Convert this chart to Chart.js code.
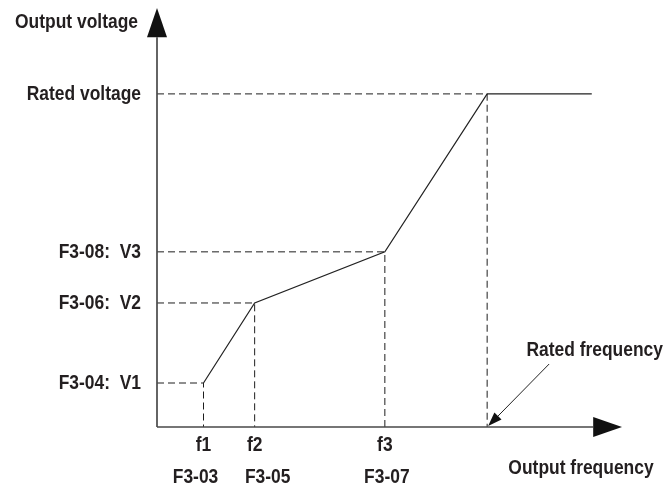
<!DOCTYPE html>
<html>
<head>
<meta charset="utf-8">
<script src="https://cdn.jsdelivr.net/npm/chart.js@4/dist/chart.umd.min.js"></script>
<style>
  html, body { margin: 0; padding: 0; background: #fff; }
  #wrap { width: 666px; height: 489px; }
</style>
</head>
<body>
<div id="wrap"><canvas id="vf" width="666" height="489"></canvas></div>
<script>
// V/F curve breakpoints, relative units (0..100 on both axes)
const freqPoints = [10, 21, 49, 71];          // f1, f2, f3, rated frequency
const voltPoints = [10.5, 29.6, 41.8, 79.5];  // V1, V2, V3, rated voltage
const curveEndFreq = 93.5;                    // flat part above rated frequency

const freqLabels = ['f1', 'f2', 'f3'];
const freqParamLabels = ['F3-03', 'F3-05', 'F3-07'];
const voltLabels = ['F3-04:  V1', 'F3-06:  V2', 'F3-08:  V3', 'Rated voltage'];
const axisTitleY = 'Output voltage';
const axisTitleX = 'Output frequency';
const ratedFreqLabel = 'Rated frequency';

const FONT = 'bold 21px "Liberation Sans", Arial, sans-serif';
const CONDENSE = 0.83;   // narrow lettering
const INK = '#231f20';

// curve through every breakpoint, then flat at rated voltage
const curveData = freqPoints.map((f, i) => ({ x: f, y: voltPoints[i] }));
curveData.push({ x: curveEndFreq, y: voltPoints[voltPoints.length - 1] });

// dashed guides: from the voltage axis to the point, then down to the frequency axis
const guideSets = freqPoints.map((f, i) => ({
  data: [{ x: 0, y: voltPoints[i] }, { x: f, y: voltPoints[i] }, { x: f, y: 0 }],
  showLine: true,
  borderColor: '#1e1e1e',
  borderWidth: 1,
  borderDash: [7, 4],
  pointRadius: 0,
  clip: false
}));

function arrowHead(ctx, tipX, tipY, dirX, dirY, len, half) {
  const n = Math.hypot(dirX, dirY);
  const ux = dirX / n, uy = dirY / n;
  const bx = tipX - ux * len, by = tipY - uy * len;
  ctx.beginPath();
  ctx.moveTo(tipX, tipY);
  ctx.lineTo(bx - uy * half, by + ux * half);
  ctx.lineTo(bx + uy * half, by - ux * half);
  ctx.closePath();
  ctx.fill();
}

// condensed text: horizontally squeezed around the anchor point
function label(ctx, text, px, py, align) {
  ctx.save();
  ctx.translate(px, py);
  ctx.scale(CONDENSE, 1);
  ctx.textAlign = align;
  ctx.fillText(text, 0, 0);
  ctx.restore();
}

const decorations = {
  id: 'vfDecorations',
  afterDatasetsDraw(chart, args, opts) {
    const { ctx, scales: { x, y } } = chart;
    const x0 = x.getPixelForValue(0), y0 = y.getPixelForValue(0);
    ctx.save();

    // axes with arrow heads
    ctx.strokeStyle = '#4a4a4a';
    ctx.lineWidth = 1.7;
    ctx.beginPath();
    ctx.moveTo(x0, y0);
    ctx.lineTo(x0, y.getPixelForValue(opts.yArrowBase));
    ctx.moveTo(x0, y0);
    ctx.lineTo(x.getPixelForValue(opts.xArrowBase), y0);
    ctx.stroke();
    ctx.fillStyle = '#111';
    const yTip = y.getPixelForValue(100), yBase = y.getPixelForValue(opts.yArrowBase);
    arrowHead(ctx, x0, yTip, 0, -1, yBase - yTip, 10);
    const xTip = x.getPixelForValue(100), xBase = x.getPixelForValue(opts.xArrowBase);
    arrowHead(ctx, xTip, y0, 1, 0, xTip - xBase, 10);

    ctx.fillStyle = INK;
    ctx.font = FONT;
    ctx.textBaseline = 'middle';

    // voltage labels
    voltLabels.forEach((t, i) => label(ctx, t, x0 - 16, y.getPixelForValue(voltPoints[i]), 'right'));
    label(ctx, axisTitleY, x0 - 19, 22, 'right');

    // frequency labels
    freqLabels.forEach((t, i) => {
      const px = x.getPixelForValue(freqPoints[i]);
      label(ctx, t, px, y0 + 18, 'center');
      label(ctx, freqParamLabels[i], px + opts.paramShift[i], y0 + 50, 'center');
    });
    label(ctx, axisTitleX, 581, y0 + 41, 'center');

    // rated frequency callout
    const rx = x.getPixelForValue(freqPoints[3]);
    label(ctx, ratedFreqLabel, 663, y0 - 77, 'right');
    ctx.strokeStyle = '#222';
    ctx.lineWidth = 1;
    const sx = rx + 62, sy = y0 - 63;
    ctx.beginPath();
    ctx.moveTo(sx, sy);
    ctx.lineTo(rx + 6, y0 - 6);
    ctx.stroke();
    ctx.fillStyle = '#111';
    arrowHead(ctx, rx + 1, y0 - 1, rx + 1 - sx, y0 - 1 - sy, 14, 5);

    ctx.restore();
  }
};

new Chart(document.getElementById('vf'), {
  type: 'scatter',
  data: {
    datasets: [
      ...guideSets,
      {
        data: curveData,
        showLine: true,
        borderColor: '#222',
        borderWidth: 1.2,
        pointRadius: 0,
        clip: false
      }
    ]
  },
  options: {
    responsive: false,
    animation: false,
    layout: { padding: { left: 157, right: 44, top: 8, bottom: 62 } },
    scales: {
      x: { type: 'linear', min: 0, max: 100, display: false },
      y: { type: 'linear', min: 0, max: 100, display: false }
    },
    plugins: {
      legend: { display: false },
      tooltip: { enabled: false },
      vfDecorations: { xArrowBase: 93.8, yArrowBase: 93, paramShift: [-8, 13, 2] }
    }
  },
  plugins: [decorations]
});
</script>
</body>
</html>
